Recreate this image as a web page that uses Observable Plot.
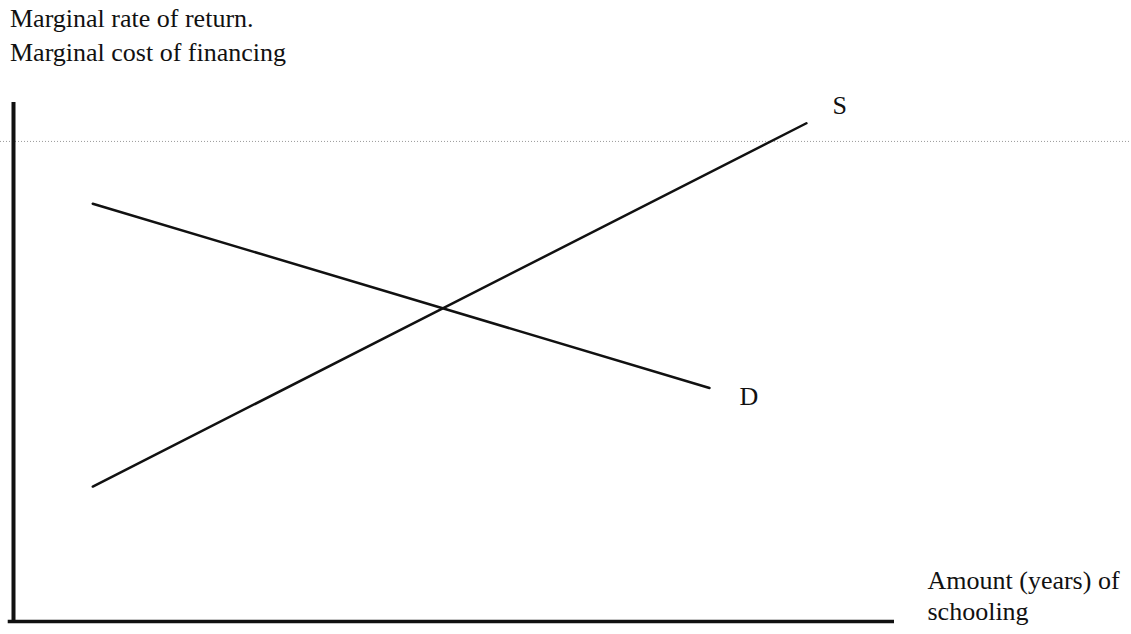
<!DOCTYPE html>
<html>
<head>
<meta charset="utf-8">
<script src="https://cdn.jsdelivr.net/npm/d3@7"></script>
<script src="https://cdn.jsdelivr.net/npm/@observablehq/plot@0.6"></script>
<style>
  html, body { margin: 0; padding: 0; background: #fff; }
  #wrap { width: 1131px; height: 634px; position: relative; overflow: hidden; }
  #title { height: 70px; box-sizing: border-box; padding: 2px 0 0 10px;
           font-family: "Liberation Serif", "Times New Roman", serif; font-size: 26px;
           line-height: 34px; color: #111; }
  #chart svg { display: block; }
</style>
</head>
<body>
<div id="wrap">
  <div id="title">Marginal rate of return.<br>Marginal cost of financing</div>
  <div id="chart"></div>
</div>
<script>
// Curves (abstract units, 0–10 on both axes)
const seriesNames = ["S", "D"];
const supplyX = [0.9, 9.0];
const supplyY = [2.6, 9.6];
const demandX = [0.9, 7.9];
const demandY = [8.05, 4.5];
const xAxisLabel = "Amount (years) of\nschooling";
const scanLineY = [9.25]; // faint dotted scan line across the page

const supply = supplyX.map((x, i) => ({series: "S", x, y: supplyY[i]}));
const demand = demandX.map((x, i) => ({series: "D", x, y: demandY[i]}));

const W = 1131, H = 564;
const mL = 13, mR = 237, mT = 32, mB = 13;
const kx = (W - mL - mR) / 10;

const chart = Plot.plot({
  width: W,
  height: H,
  marginLeft: mL,
  marginRight: mR,
  marginTop: mT,
  marginBottom: mB,
  x: {domain: [0, 10], axis: null},
  y: {domain: [0, 10], axis: null},
  style: {background: "#fff", fontFamily: "Liberation Serif, Times New Roman, serif", color: "#111"},
  marks: [
    Plot.ruleY(scanLineY, {x1: -mL / kx, x2: (W - mL) / kx, stroke: "#9a9a9a", strokeWidth: 1, strokeDasharray: "1 2"}),
    Plot.ruleX([0], {stroke: "#111", strokeWidth: 4}),
    Plot.ruleY([0], {x1: -0.06, x2: 10, stroke: "#111", strokeWidth: 3.5}),
    Plot.line(supply, {x: "x", y: "y", stroke: "#111", strokeWidth: 2.5}),
    Plot.line(demand, {x: "x", y: "y", stroke: "#111", strokeWidth: 2.5}),
    Plot.text(supply, Plot.selectLast({x: "x", y: "y", text: "series", dx: 26, dy: -9,
      textAnchor: "start", lineAnchor: "bottom", fontSize: 26, fill: "#111"})),
    Plot.text(demand, Plot.selectLast({x: "x", y: "y", text: "series", dx: 30, dy: 17,
      textAnchor: "start", lineAnchor: "bottom", fontSize: 26, fill: "#111"})),
    Plot.text([xAxisLabel], {x: 10, y: 0, text: d => d, dx: 33, dy: -2,
      textAnchor: "start", lineAnchor: "bottom", lineHeight: 1.19, fontSize: 26, fill: "#111"})
  ]
});
document.getElementById("chart").appendChild(chart);
</script>
</body>
</html>
